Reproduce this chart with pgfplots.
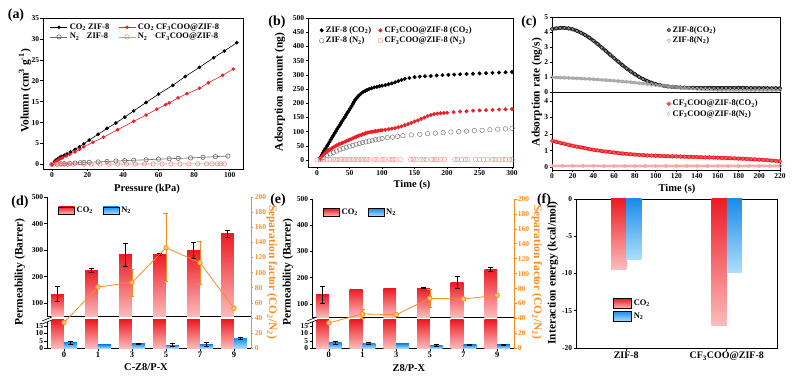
\documentclass[border=0pt]{standalone}
\usepackage{pgfplots}
\usepackage{pgfplotstable}
\pgfplotsset{compat=1.18}
\usepackage{fontspec}
\setmainfont{Liberation Serif}
\definecolor{cotop}{RGB}{236,28,36}
\definecolor{cobot}{RGB}{252,188,188}
\definecolor{ntop}{RGB}{28,140,232}
\definecolor{nbot}{RGB}{172,222,252}
\definecolor{sfo}{RGB}{250,140,30}
\definecolor{sff}{RGB}{255,205,130}
\definecolor{myred}{RGB}{238,30,36}
\definecolor{mypink}{RGB}{245,135,135}
\definecolor{mygray}{RGB}{105,105,105}
\definecolor{lgray}{RGB}{170,170,170}
\newcommand{\tkf}{\bfseries\fontsize{7.5}{8}\selectfont}
\newcommand{\lbf}{\bfseries\fontsize{10.5}{12}\selectfont}
\newcommand{\ylf}{\bfseries\fontsize{11.5}{12}\selectfont}
\newcommand{\lgf}{\bfseries\fontsize{8.5}{9.5}\selectfont}
\newcommand{\pnf}{\bfseries\fontsize{14}{15}\selectfont}
\newcommand{\sub}[1]{\textsubscript{#1}}
\newcommand{\vbar}[5]{\addplot[draw=none, forget plot, top color=#5top, bottom color=#5bot] coordinates {(#1,#3) (#1,#4) (#2,#4) (#2,#3)};}
\pgfplotsset{
  pan/.style={scale only axis, anchor=south west, axis line style={line width=0.9bp, black},
    tick style={black, line width=0.6bp}, tick align=outside, major tick length=2.5bp,
    xtick pos=left, ytick pos=left, ticklabel style={font=\tkf, inner sep=1.2bp},
    /pgf/number format/assume math mode=true, legend cell align=left},
  errk/.style={draw=none, forget plot, mark=none, error bars/.cd, y dir=both, y explicit,
    error bar style={draw=black, solid, line width=0.6bp},
    error mark options={rotate=90, draw=black, mark size=2.5bp, line width=0.6bp}},
  erro/.style={draw=none, forget plot, mark=none, error bars/.cd, y dir=both, y explicit,
    error bar style={draw=sfo, solid, line width=0.6bp},
    error mark options={rotate=90, draw=sfo, mark size=2.5bp, line width=0.6bp}},
}
% panel (c) series: time (s), rate (ng/s)
\pgfplotstableread{
t r
0 4.20
4 4.24
8 4.27
12 4.27
16 4.24
20 4.18
24 4.08
28 3.95
32 3.80
36 3.62
40 3.42
44 3.20
48 2.97
52 2.73
56 2.49
60 2.25
64 2.02
68 1.79
72 1.57
76 1.37
80 1.18
84 1.01
88 0.86
92 0.73
96 0.62
100 0.53
104 0.46
108 0.41
112 0.37
116 0.34
120 0.32
124 0.30
128 0.29
132 0.28
136 0.28
140 0.27
144 0.27
148 0.27
152 0.27
156 0.27
160 0.27
164 0.27
168 0.27
172 0.27
176 0.27
180 0.27
184 0.27
188 0.27
192 0.26
196 0.26
200 0.26
204 0.26
208 0.25
212 0.25
216 0.25
220 0.24
}\zifco
\pgfplotstableread{
t r
0 0.98
4 0.97
8 0.96
12 0.95
16 0.94
20 0.92
24 0.91
28 0.90
32 0.88
36 0.87
40 0.85
44 0.83
48 0.81
52 0.79
56 0.77
60 0.75
64 0.73
68 0.70
72 0.68
76 0.65
80 0.62
84 0.59
88 0.56
92 0.53
96 0.50
100 0.47
104 0.44
108 0.41
112 0.38
116 0.35
120 0.32
124 0.29
128 0.27
132 0.25
136 0.23
140 0.21
144 0.19
148 0.17
152 0.16
156 0.15
160 0.14
164 0.13
168 0.13
172 0.12
176 0.12
180 0.12
184 0.12
188 0.12
192 0.12
196 0.12
200 0.12
204 0.12
208 0.12
212 0.12
216 0.12
220 0.12
}\zifn
\pgfplotstableread{
t r
0 1.60
4 1.54
8 1.48
12 1.42
16 1.36
20 1.30
24 1.25
28 1.20
32 1.15
36 1.10
40 1.06
44 1.02
48 0.98
52 0.95
56 0.92
60 0.89
64 0.86
68 0.83
72 0.81
76 0.79
80 0.77
84 0.75
88 0.74
92 0.72
96 0.71
100 0.70
104 0.69
108 0.68
112 0.67
116 0.66
120 0.66
124 0.65
128 0.64
132 0.63
136 0.63
140 0.62
144 0.61
148 0.60
152 0.60
156 0.59
160 0.58
164 0.57
168 0.56
172 0.55
176 0.54
180 0.53
184 0.52
188 0.51
192 0.49
196 0.48
200 0.46
204 0.45
208 0.43
212 0.41
216 0.39
220 0.37
}\cfco
\pgfplotstableread{
t r
0 0.09
10 0.09
20 0.09
30 0.09
40 0.09
50 0.08
60 0.08
70 0.08
80 0.08
90 0.08
100 0.08
110 0.08
120 0.08
130 0.08
140 0.08
150 0.08
160 0.08
170 0.08
180 0.08
190 0.08
200 0.08
210 0.08
220 0.08
}\cfn
\begin{document}
\begin{tikzpicture}
\path[use as bounding box] (0,0) rectangle (799bp,382bp);

% ---------------- (a)
\begin{axis}[pan, at={(43bp,213bp)}, width=200bp, height=151bp,
  xmin=-5, xmax=107.5, ymin=-1.1, ymax=35, xtick={0,20,...,100}, ytick={0,5,...,35},
  legend columns=2, legend style={at={(0.02,0.99)}, anchor=north west, draw=none, fill=none, font=\lgf,
  /tikz/every even column/.append style={column sep=7bp}, row sep=-1.5bp}]
\addplot[black, line width=0.6bp, mark=*, mark size=1.5bp] coordinates {
(0,0) (1.5,0.7) (2.5,1.1) (3.5,1.4) (4.5,1.7) (5.5,1.9) (7,2.2) (8.5,2.5) (10.5,3.0) (13,3.6) (15.5,4.2) (18,4.9) (21,5.8) (26,7.2) (31,8.6) (36,9.9) (41,11.3) (46,12.8) (53,14.8) (60,16.8) (68,18.9) (75,21.0) (83,23.2) (91,25.5) (97,27.1) (104,29.1)};
\addlegendentry{CO\sub{2} ZIF-8}
\addplot[myred, line width=0.6bp, mark=*, mark size=1.5bp] coordinates {
(0,0) (2,0.6) (3,0.9) (4,1.2) (5,1.4) (6,1.6) (8,2.0) (10,2.4) (13,3.0) (15.5,3.6) (18,4.2) (23,5.3) (29,6.5) (37,8.3) (46,10.3) (53,11.8) (59,13.2) (64,14.3) (66,14.7) (71,15.9) (76,16.9) (83,18.2) (88,19.5) (96,21.3) (102,22.8)};
\addlegendentry{CO\sub{2} CF\sub{3}COO@ZIF-8}
\addplot[mygray, line width=0.6bp, mark=o, mark size=2.2bp, mark options={fill=white, draw=mygray}] coordinates {
(0,0) (3,0.1) (5,0.15) (7,0.2) (10,0.25) (13,0.3) (16,0.4) (18,0.45) (21,0.5) (26,0.6) (31,0.7) (36,0.8) (41,0.9) (46,1.0) (53,1.1) (60,1.25) (66,1.35) (71,1.45) (78,1.55) (85,1.7) (92,1.85) (99,2.0)};
\addlegendentry{N\sub{2}\hspace{0.9em}ZIF-8}
\addplot[mypink, line width=0.6bp, mark=o, mark size=2.2bp, mark options={fill=white, draw=mypink}] coordinates {
(0,0) (3,0) (5,0.02) (7,0.03) (9,0.04) (12,0.05) (18,0.06) (22,0.07) (27,0.08) (32,0.08) (37,0.09) (42,0.09) (47,0.1) (52,0.1) (57,0.11) (62,0.11) (67,0.12) (72,0.12) (77,0.13) (82,0.13) (87,0.14) (90,0.14) (93,0.14) (95,0.15) (97,0.15)};
\addlegendentry{N\sub{2}\hspace{0.9em}CF\sub{3}COO@ZIF-8}
\end{axis}

% ---------------- (b)
\begin{axis}[pan, at={(308bp,215bp)}, width=205bp, height=149bp,
  xmin=-14, xmax=301.5, ymin=-24, ymax=500, xtick={0,50,...,300}, ytick={0,50,...,500},
  legend columns=2, legend style={at={(0.04,0.97)}, anchor=north west, draw=none, fill=none, font=\lgf,
  /tikz/every even column/.append style={column sep=5bp}, row sep=-1bp}]
\addplot[only marks, black, mark=*, mark size=1.8bp] coordinates {
(5,10) (7,18) (9,26) (11,33) (13,41) (15,49) (17,56) (19,64) (21,72) (23,80) (25,87) (27,95) (29,102) (31,110) (33,117) (35,124) (37,131) (39,139) (41,146) (43,153) (45,160) (47,168) (49,175) (51,182) (53,190) (55,198) (57,206) (59,213) (61,219) (63,224) (65,229) (68,235) (71,240) (74,244) (77,247) (80,250) (84,253) (88,256) (92,258) (96,260) (100,262) (105,264) (110,267) (115,270) (120,274) (125,278) (130,282) (135,286) (142,289) (150,292) (158,294) (166,295) (175,296) (184,298) (193,299) (202,300) (211,301) (220,302) (230,303) (240,304) (250,305) (260,306) (270,307) (280,308) (290,309) (300,310)};
\addlegendentry{ZIF-8 (CO\sub{2})}
\addplot[only marks, myred, mark=*, mark size=1.8bp] coordinates {
(5,5) (8,14) (10,20) (13,26) (15,30) (18,35) (20,38) (23,42) (25,45) (28,49) (30,52) (33,55) (35,57) (38,60) (40,62) (43,65) (45,67) (48,70) (50,72) (53,75) (55,77) (58,80) (60,82) (63,85) (65,87) (68,89) (70,91) (73,93) (75,95) (78,97) (80,98) (83,99) (85,100) (88,101) (90,102) (93,103) (95,104) (98,105) (100,105) (105,107) (110,109) (115,111) (120,113) (125,116) (130,119) (135,123) (140,127) (145,131) (150,136) (155,140) (160,145) (165,150) (170,155) (175,159) (180,162) (185,164) (190,165) (195,166) (200,167) (210,169) (220,171) (230,172) (240,174) (250,175) (260,176) (270,177) (280,178) (290,179) (300,180)};
\addlegendentry{CF\sub{3}COO@ZIF-8 (CO\sub{2})}
\addplot[only marks, mygray, mark=o, mark size=2.3bp] coordinates {
(5,3) (10,10) (15,16) (20,22) (25,27) (30,32) (35,37) (40,41) (45,45) (50,49) (55,52) (60,56) (65,59) (70,62) (75,64) (80,67) (85,69) (90,72) (95,74) (100,76) (108,79) (116,81) (124,84) (132,86) (145,89) (158,91) (170,93) (182,95) (194,97) (206,99) (218,100) (230,102) (242,104) (254,105) (266,107) (278,109) (290,110) (300,112)};
\addlegendentry{ZIF-8 (N\sub{2})}
\addplot[only marks, mypink, mark=o, mark size=2.3bp] coordinates {
(0,1) (5,2) (10,1) (15,2) (20,2) (25,3) (28,2) (32,2) (36,2) (40,3) (44,2) (48,2) (52,2) (56,3) (60,2) (64,2) (68,2) (72,2) (76,3) (80,2) (88,2) (92,2) (100,2) (104,3) (112,2) (116,2) (120,2) (128,2) (144,2) (148,3) (152,2) (160,2) (164,2) (168,2) (176,2) (180,2) (184,2) (190,2) (196,3) (212,2) (216,2) (222,2) (228,2) (232,2) (244,2) (250,2) (256,2) (262,2) (270,2) (274,2) (280,2) (286,2) (290,2) (296,3) (300,2)};
\addlegendentry{CF\sub{3}COO@ZIF-8 (N\sub{2})}
\end{axis}

% ---------------- (c) top
\begin{axis}[pan, at={(552bp,290bp)}, width=228bp, height=75bp,
  xmin=0, xmax=220, ymin=0, ymax=5, xtick=\empty, ytick={0,1,...,5},
  legend style={at={(0.49,0.93)}, anchor=north west, draw=none, fill=none, font=\lgf, row sep=-1bp}]
\addplot[black!75, line width=3.4bp, forget plot] table[x=t, y=r] {\zifco};
\addplot[lgray, line width=2.6bp, forget plot] table[x=t, y=r] {\zifn};
\addplot[only marks, black, mark=*, mark size=1.9bp, mark options={fill=black!45, draw=black, line width=0.4bp}] table[x=t, y=r] {\zifco};
\addlegendentry{ZIF-8(CO\sub{2})}
\addplot[only marks, lgray, mark=o, mark size=1.7bp, mark options={fill=black!12, draw=lgray, line width=0.5bp}] table[x=t, y=r] {\zifn};
\addlegendentry{ZIF-8(N\sub{2})}
\end{axis}

% ---------------- (c) bottom
\begin{axis}[pan, at={(552bp,212bp)}, width=228bp, height=78bp,
  xmin=0, xmax=220, ymin=-0.16, ymax=4.54, xtick={0,20,...,220}, ytick={0,1,...,4},
  legend style={at={(0.49,0.95)}, anchor=north west, draw=none, fill=none, font=\lgf, row sep=-1bp}]
\addplot[myred, line width=3.4bp, forget plot] table[x=t, y=r] {\cfco};
\addplot[mypink!70, line width=2.6bp, forget plot] table[x=t, y=r] {\cfn};
\addplot[only marks, myred, mark=*, mark size=1.9bp, mark options={fill=myred!70, draw=myred, line width=0.4bp}] table[x=t, y=r] {\cfco};
\addlegendentry{CF\sub{3}COO@ZIF-8(CO\sub{2})}
\addplot[only marks, mypink, mark=o, mark size=1.7bp, mark options={draw=mypink!80, line width=0.5bp}] table[x=t, y=r] {\cfn};
\addlegendentry{CF\sub{3}COO@ZIF-8(N\sub{2})}
\end{axis}

% ---------------- (d) upper
\begin{axis}[pan, at={(47bp,65.4bp)}, width=204bp, height=119.6bp,
  xmin=-0.5, xmax=5.5, ymin=50, ymax=500, axis x line*=top, axis y line*=left, xtick=\empty,
  ytick={100,200,...,500},
  legend columns=2, legend style={at={(0.04,0.95)}, anchor=north west, draw=none, fill=none, font=\lgf,
  /tikz/every even column/.append style={column sep=8bp}}]
\addlegendimage{legend image code/.code={\shade[top color=cotop,bottom color=cobot] (0bp,-3.5bp) rectangle (16bp,4bp);}}
\addlegendentry{CO\sub{2}}
\addlegendimage{legend image code/.code={\shade[top color=ntop,bottom color=nbot] (0bp,-3.5bp) rectangle (16bp,4bp);}}
\addlegendentry{N\sub{2}}
\vbar{-0.38}{0}{50}{134}{co}
\vbar{0.62}{1}{50}{225}{co}
\vbar{1.62}{2}{50}{284}{co}
\vbar{2.62}{3}{50}{284}{co}
\vbar{3.62}{4}{50}{297}{co}
\vbar{4.62}{5}{50}{362}{co}
\addplot[errk] coordinates {(-0.19,134) += (0,31) -= (0,27) (0.81,225) +- (0,8) (1.81,284) +- (0,43) (2.81,284) +- (0,4) (3.81,297) += (0,32) -= (0,29) (4.81,362) +- (0,13)};
\end{axis}
% ---------------- (d) lower
\begin{axis}[pan, at={(47bp,33.7bp)}, width=204bp, height=28.3bp,
  xmin=-0.5, xmax=5.5, ymin=0, ymax=19, axis x line*=bottom, axis y line*=left,
  xtick={0,...,5}, xticklabels={0,1,3,5,7,9}, xticklabel style={font=\bfseries\fontsize{8.5}{9}\selectfont},
  ytick={0,5,10,15}]
\vbar{-0.38}{0}{0}{19}{co}
\vbar{0.62}{1}{0}{19}{co}
\vbar{1.62}{2}{0}{19}{co}
\vbar{2.62}{3}{0}{19}{co}
\vbar{3.62}{4}{0}{19}{co}
\vbar{4.62}{5}{0}{19}{co}
\vbar{0}{0.38}{0}{3.8}{n}
\vbar{1}{1.38}{0}{2.3}{n}
\vbar{2}{2.38}{0}{3.0}{n}
\vbar{3}{3.38}{0}{2.2}{n}
\vbar{4}{4.38}{0}{2.5}{n}
\vbar{5}{5.38}{0}{6.8}{n}
\addplot[errk] coordinates {(0.19,3.8) +- (0,1.2) (2.19,3.0) +- (0,0.4) (3.19,2.2) +- (0,1.0) (4.19,2.5) +- (0,1.2) (5.19,6.8) +- (0,0.6)};
\end{axis}
% ---------------- (d) right
\begin{axis}[pan, at={(47bp,33.7bp)}, width=204bp, height=151.3bp,
  xmin=-0.5, xmax=5.5, ymin=0, ymax=200, axis x line=none, axis y line*=right, ytick pos=right,
  ytick={0,20,...,200}, y axis line style={sfo}, ytick style={sfo}, yticklabel style={sfo}]
\addplot[erro] coordinates {(2,87) +- (0,18) (3,133) +- (0,45) (4,113) +- (0,29)};
\addplot[sfo, line width=0.8bp, mark=*, mark size=2.3bp, mark options={fill=sff, draw=sfo}] coordinates {(0,34) (1,81) (2,87) (3,133) (4,113) (5,53)};
\end{axis}

% ---------------- (e) upper
\begin{axis}[pan, at={(312bp,64.9bp)}, width=202bp, height=118.1bp,
  xmin=-0.5, xmax=5.5, ymin=50, ymax=500, axis x line*=top, axis y line*=left, xtick=\empty,
  ytick={100,200,...,500},
  legend columns=2, legend style={at={(0.04,0.95)}, anchor=north west, draw=none, fill=none, font=\lgf,
  /tikz/every even column/.append style={column sep=8bp}}]
\addlegendimage{legend image code/.code={\shade[top color=cotop,bottom color=cobot] (0bp,-3.5bp) rectangle (16bp,4bp);}}
\addlegendentry{CO\sub{2}}
\addlegendimage{legend image code/.code={\shade[top color=ntop,bottom color=nbot] (0bp,-3.5bp) rectangle (16bp,4bp);}}
\addlegendentry{N\sub{2}}
\vbar{-0.38}{0}{50}{135}{co}
\vbar{0.62}{1}{50}{157}{co}
\vbar{1.62}{2}{50}{158}{co}
\vbar{2.62}{3}{50}{160}{co}
\vbar{3.62}{4}{50}{182}{co}
\vbar{4.62}{5}{50}{232}{co}
\addplot[errk] coordinates {(-0.19,135) +- (0,31) (2.81,160) +- (0,2) (3.81,182) +- (0,22) (4.81,232) +- (0,7)};
\end{axis}
% ---------------- (e) lower
\begin{axis}[pan, at={(312bp,33.7bp)}, width=202bp, height=28.3bp,
  xmin=-0.5, xmax=5.5, ymin=0, ymax=19, axis x line*=bottom, axis y line*=left,
  xtick={0,...,5}, xticklabels={0,1,3,5,7,9}, xticklabel style={font=\bfseries\fontsize{8.5}{9}\selectfont},
  ytick={0,5,10,15}]
\vbar{-0.38}{0}{0}{19}{co}
\vbar{0.62}{1}{0}{19}{co}
\vbar{1.62}{2}{0}{19}{co}
\vbar{2.62}{3}{0}{19}{co}
\vbar{3.62}{4}{0}{19}{co}
\vbar{4.62}{5}{0}{19}{co}
\vbar{0}{0.38}{0}{3.8}{n}
\vbar{1}{1.38}{0}{3.3}{n}
\vbar{2}{2.38}{0}{3.0}{n}
\vbar{3}{3.38}{0}{2.0}{n}
\vbar{4}{4.38}{0}{2.3}{n}
\vbar{5}{5.38}{0}{2.3}{n}
\addplot[errk] coordinates {(0.19,3.8) +- (0,1.0) (1.19,3.3) +- (0,0.6) (3.19,2.0) +- (0,0.5) (4.19,2.3) +- (0,0.5) (5.19,2.3) +- (0,0.6)};
\end{axis}
% ---------------- (e) right
\begin{axis}[pan, at={(312bp,33.7bp)}, width=202bp, height=149.3bp,
  xmin=-0.5, xmax=5.5, ymin=0, ymax=200, axis x line=none, axis y line*=right, ytick pos=right,
  ytick={0,20,...,200}, y axis line style={sfo}, ytick style={sfo}, yticklabel style={sfo}]
\addplot[erro] coordinates {(1,46) +- (0,6) (3,67) +- (0,12) (4,66) +- (0,2)};
\addplot[sfo, line width=0.8bp, mark=*, mark size=2.3bp, mark options={fill=sff, draw=sfo}] coordinates {(0,34) (1,46) (2,45) (3,67) (4,66) (5,71)};
\end{axis}

% ---------------- (f)
\begin{axis}[pan, at={(576bp,34bp)}, width=201bp, height=149bp,
  xmin=-0.5, xmax=1.5, ymin=-20, ymax=0, xtick={0,1}, xticklabels={ZIF-8, CF\sub{3}COO@ZIF-8},
  xticklabel style={font=\bfseries\fontsize{10}{11}\selectfont}, ytick={-20,-15,...,0},
  legend style={at={(0.17,0.35)}, anchor=north west, draw=none, fill=none, font=\lgf, row sep=1.5bp}]
\addlegendimage{legend image code/.code={\shade[top color=cotop,bottom color=cobot] (0bp,-5bp) rectangle (18bp,5bp);}}
\addlegendentry{CO\sub{2}}
\addlegendimage{legend image code/.code={\shade[top color=ntop,bottom color=nbot] (0bp,-5bp) rectangle (18bp,5bp);}}
\addlegendentry{N\sub{2}}
\vbar{-0.15}{0}{0}{-9.4}{co}
\vbar{0}{0.15}{0}{-8.1}{n}
\vbar{0.85}{1}{0}{-17.0}{co}
\vbar{1}{1.15}{0}{-9.8}{n}
\end{axis}

% break marks
\foreach \bx in {47,312}{
  \fill[white] ({(\bx-5)*1bp},61bp) -- ({(\bx+5)*1bp},65bp) -- ({(\bx+5)*1bp},62bp) -- ({(\bx-5)*1bp},58bp) -- cycle;
  \draw[line width=0.6bp] ({(\bx-5)*1bp},61bp) -- ({(\bx+5)*1bp},65bp);
  \draw[line width=0.6bp] ({(\bx-5)*1bp},58bp) -- ({(\bx+5)*1bp},62bp);
}

% labels
\node[font=\lbf] at (147bp,193.5bp) {Pressure (kPa)};
\node[font=\ylf, rotate=90] at (25bp,291bp) {Volumn (cm\textsuperscript{3} g\textsuperscript{-1})};
\node[font=\lbf] at (412bp,197bp) {Time (s)};
\node[font=\ylf, rotate=90] at (280bp,290bp) {Adsorption amount (ng)};
\node[font=\lbf] at (677bp,193bp) {Time (s)};
\node[font=\ylf, rotate=90] at (537bp,290bp) {Adsorption rate (ng/s)};
\node[font=\lbf] at (146bp,15bp) {C-Z8/P-X};
\node[font=\ylf, rotate=90] at (20bp,110bp) {Permeability (Barrer)};
\node[font=\ylf, rotate=-90, text=sfo] at (272bp,110bp) {Separation factor (CO\sub{2}/N\sub{2})};
\node[font=\lbf] at (409bp,14bp) {Z8/P-X};
\node[font=\ylf, rotate=90] at (288bp,110bp) {Permeability (Barrer)};
\node[font=\ylf, rotate=-90, text=sfo] at (537bp,110bp) {Separation factor (CO\sub{2}/N\sub{2})};
\node[font=\ylf, rotate=90] at (553bp,109bp) {Interaction energy (kcal/mol)};
\node[font=\pnf] at (16bp,367bp) {(a)};
\node[font=\pnf] at (277bp,360bp) {(b)};
\node[font=\pnf] at (529bp,360bp) {(c)};
\node[font=\pnf] at (20bp,180bp) {(d)};
\node[font=\pnf] at (278bp,182bp) {(e)};
\node[font=\pnf] at (544bp,182bp) {(f)};
\end{tikzpicture}
\end{document}
